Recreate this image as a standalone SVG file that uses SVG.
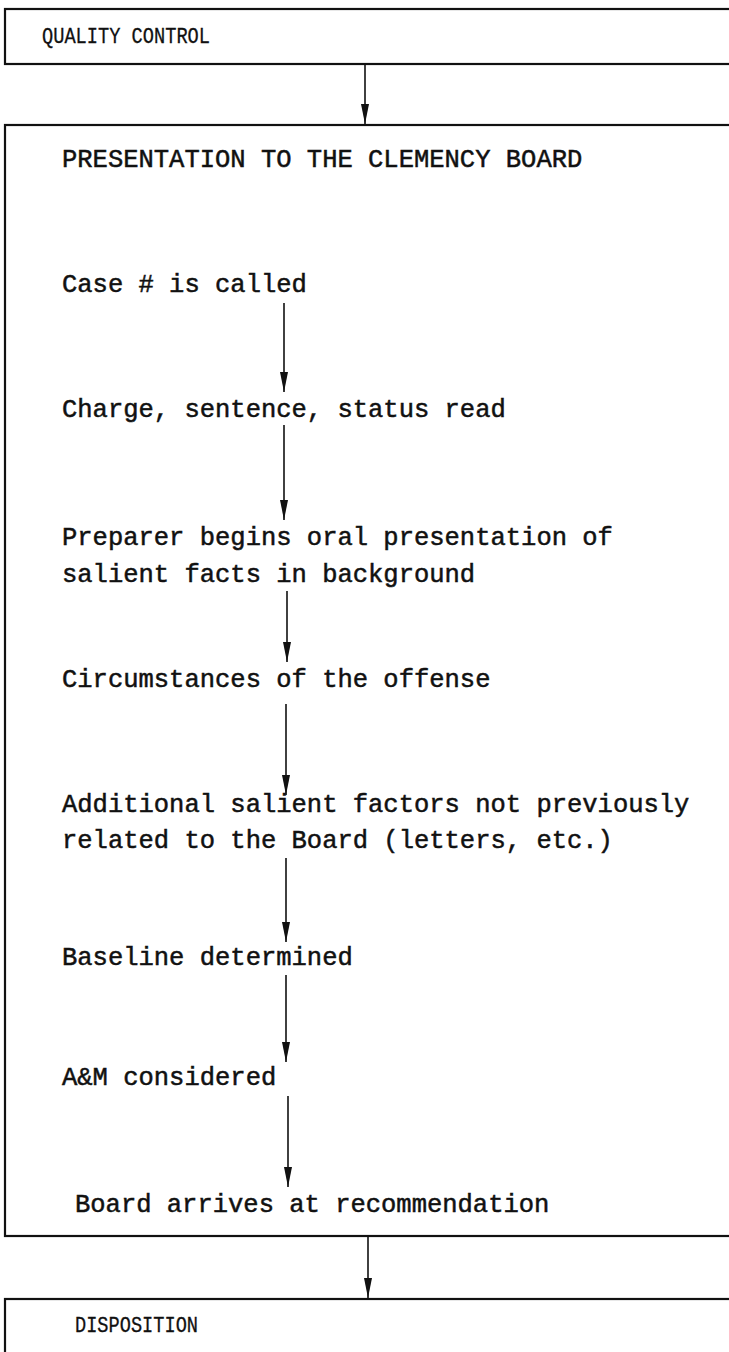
<svg xmlns="http://www.w3.org/2000/svg" width="729" height="1352" viewBox="0 0 729 1352">
<style>
.box{fill:none;stroke:#111;stroke-width:2.2}
.t{font-family:"Liberation Mono",monospace;font-size:25.5px;fill:#111;stroke:#111;stroke-width:0.5}
.h{font-family:"Liberation Mono",monospace;font-size:22px;fill:#111;stroke:#111;stroke-width:0.3}
.c{stroke:#111;stroke-width:1.6;fill:none;marker-end:url(#ah)}
</style>
<defs>
<marker id="ah" markerWidth="20" markerHeight="10" refX="20" refY="5" orient="auto" markerUnits="userSpaceOnUse" viewBox="0 0 20 10">
<path d="M0,1 L20,5 L0,9 Z" fill="#111"/>
</marker>
</defs>
<rect width="729" height="1352" fill="#fff"/>
<g id="quality-control">
<rect class="box" x="5" y="9" width="740" height="55"/>
<text class="h" x="42" y="43" textLength="168" lengthAdjust="spacingAndGlyphs">QUALITY CONTROL</text>
</g>
<g id="presentation">
<rect class="box" x="5" y="125" width="740" height="1111"/>
<text class="t" x="62" y="167">PRESENTATION TO THE CLEMENCY BOARD</text>
</g>
<g id="case-called"><text class="t" x="62" y="292">Case # is called</text></g>
<g id="charge-read"><text class="t" x="62" y="417">Charge, sentence, status read</text></g>
<g id="preparer"><text class="t" x="62" y="545">Preparer begins oral presentation of</text><text class="t" x="62" y="582">salient facts in background</text></g>
<g id="circumstances"><text class="t" x="62" y="687">Circumstances of the offense</text></g>
<g id="additional"><text class="t" x="62" y="812">Additional salient factors not previously</text><text class="t" x="62" y="848">related to the Board (letters, etc.)</text></g>
<g id="baseline"><text class="t" x="62" y="965">Baseline determined</text></g>
<g id="am"><text class="t" x="62" y="1085">A&amp;M considered</text></g>
<g id="board-arrives"><text class="t" x="75" y="1212">Board arrives at recommendation</text></g>
<g id="disposition">
<rect class="box" x="5" y="1299" width="740" height="80"/>
<text class="h" x="75" y="1332" textLength="123" lengthAdjust="spacingAndGlyphs">DISPOSITION</text>
</g>
<g id="connectors">
<line class="c" x1="365" y1="64" x2="365" y2="124"/>
<line class="c" x1="284" y1="303" x2="284" y2="392"/>
<line class="c" x1="284" y1="425" x2="284" y2="520"/>
<line class="c" x1="287" y1="591" x2="287" y2="662"/>
<line class="c" x1="286" y1="704" x2="286" y2="795"/>
<line class="c" x1="286" y1="858" x2="286" y2="942"/>
<line class="c" x1="286" y1="975" x2="286" y2="1062"/>
<line class="c" x1="288" y1="1096" x2="288" y2="1187"/>
<line class="c" x1="368" y1="1236" x2="368" y2="1298"/>
</g>
</svg>
